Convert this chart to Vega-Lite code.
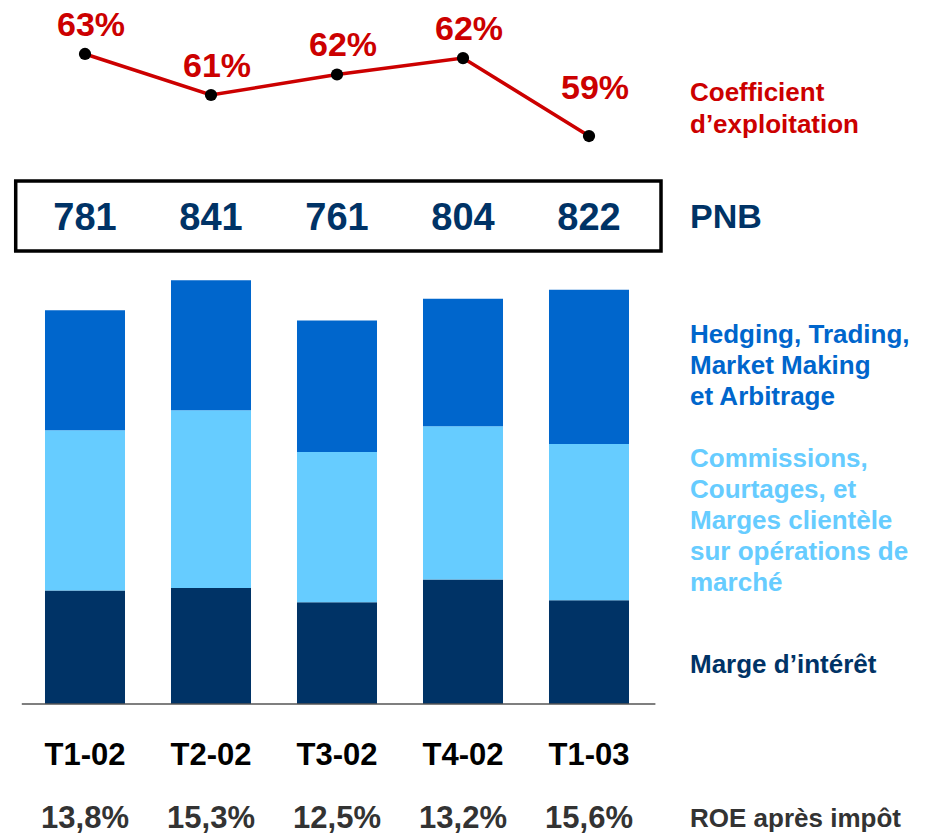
{
  "$schema": "https://vega.github.io/schema/vega-lite/v6.json",
  "padding": 0,
  "autosize": {"type": "pad"},
  "bounds": "flush",
  "spacing": 0,
  "config": {
    "view": {"stroke": null},
    "font": "Liberation Sans",
    "locale": {"number": {"decimal": ",", "thousands": " ", "grouping": [3], "currency": ["", " €"]}}
  },
  "datasets": {
    "quarters": [
      {"quarter": "T1-02", "pnb": 781, "coef": 63, "coefLabel": "63%", "roe": 0.138},
      {"quarter": "T2-02", "pnb": 841, "coef": 61, "coefLabel": "61%", "roe": 0.153},
      {"quarter": "T3-02", "pnb": 761, "coef": 62, "coefLabel": "62%", "roe": 0.125},
      {"quarter": "T4-02", "pnb": 804, "coef": 62.8, "coefLabel": "62%", "roe": 0.132},
      {"quarter": "T1-03", "pnb": 822, "coef": 59, "coefLabel": "59%", "roe": 0.156}
    ],
    "bars": [
      {"quarter": "T1-02", "series": "Marge", "stackOrder": 1, "value": 225},
      {"quarter": "T1-02", "series": "Commissions", "stackOrder": 2, "value": 318},
      {"quarter": "T1-02", "series": "Hedging", "stackOrder": 3, "value": 238},
      {"quarter": "T2-02", "series": "Marge", "stackOrder": 1, "value": 230},
      {"quarter": "T2-02", "series": "Commissions", "stackOrder": 2, "value": 353},
      {"quarter": "T2-02", "series": "Hedging", "stackOrder": 3, "value": 258},
      {"quarter": "T3-02", "series": "Marge", "stackOrder": 1, "value": 202},
      {"quarter": "T3-02", "series": "Commissions", "stackOrder": 2, "value": 298},
      {"quarter": "T3-02", "series": "Hedging", "stackOrder": 3, "value": 261},
      {"quarter": "T4-02", "series": "Marge", "stackOrder": 1, "value": 247},
      {"quarter": "T4-02", "series": "Commissions", "stackOrder": 2, "value": 304},
      {"quarter": "T4-02", "series": "Hedging", "stackOrder": 3, "value": 253},
      {"quarter": "T1-03", "series": "Marge", "stackOrder": 1, "value": 206},
      {"quarter": "T1-03", "series": "Commissions", "stackOrder": 2, "value": 310},
      {"quarter": "T1-03", "series": "Hedging", "stackOrder": 3, "value": 306}
    ],
    "series": [
      {"series": "Marge", "label": "Marge d’intérêt"},
      {"series": "Commissions", "label": "Commissions,\nCourtages, et\nMarges clientèle\nsur opérations de\nmarché"},
      {"series": "Hedging", "label": "Hedging, Trading,\nMarket Making\net Arbitrage"}
    ],
    "one": [{"item": "label"}]
  },
  "vconcat": [
    {
      "width": 933,
      "height": 181,
      "layer": [
        {
          "data": {"name": "quarters"},
          "mark": {"type": "line", "color": "#CC0000", "strokeWidth": 3.5},
          "encoding": {
            "x": {"field": "quarter", "type": "nominal", "axis": null,
                  "scale": {"type": "band", "domain": ["T1-02", "T2-02", "T3-02", "T4-02", "T1-03", "lab"], "range": [22, 778], "paddingInner": 0.365, "paddingOuter": 0.1825}},
            "y": {"field": "coef", "type": "quantitative", "axis": null,
                  "scale": {"domain": [56.805, 65.634], "nice": false, "zero": false}}
          }
        },
        {
          "data": {"name": "quarters"},
          "mark": {"type": "circle", "color": "#000000", "opacity": 1, "size": 150},
          "encoding": {
            "x": {"field": "quarter", "type": "nominal"},
            "y": {"field": "coef", "type": "quantitative"}
          }
        },
        {
          "data": {"name": "quarters"},
          "transform": [{"filter": "datum.quarter !== 'T1-03'"}],
          "mark": {"type": "text", "color": "#CC0000", "fontSize": 34, "fontWeight": "bold", "baseline": "alphabetic", "align": "center", "dx": 6, "dy": -18},
          "encoding": {
            "x": {"field": "quarter", "type": "nominal"},
            "y": {"field": "coef", "type": "quantitative"},
            "text": {"field": "coefLabel"}
          }
        },
        {
          "data": {"name": "quarters"},
          "transform": [{"filter": "datum.quarter === 'T1-03'"}],
          "mark": {"type": "text", "color": "#CC0000", "fontSize": 34, "fontWeight": "bold", "baseline": "alphabetic", "align": "center", "dx": 6, "dy": -37},
          "encoding": {
            "x": {"field": "quarter", "type": "nominal"},
            "y": {"field": "coef", "type": "quantitative"},
            "text": {"field": "coefLabel"}
          }
        },
        {
          "data": {"name": "one"},
          "mark": {"type": "text", "text": "Coefficient\nd’exploitation", "lineBreak": "\n", "color": "#CC0000", "fontSize": 26, "fontWeight": "bold", "lineHeight": 32, "align": "left", "baseline": "middle", "dy": 2},
          "encoding": {
            "x": {"datum": "lab", "type": "nominal", "bandPosition": 0.1875}
          }
        }
      ]
    },
    {
      "width": 933,
      "height": 70,
      "layer": [
        {
          "data": {"name": "one"},
          "mark": {"type": "rect", "filled": false, "stroke": "#000000", "strokeWidth": 3.5},
          "encoding": {
            "x": {"datum": "T1-02", "type": "nominal", "bandPosition": -0.366, "axis": null,
                  "scale": {"type": "band", "domain": ["T1-02", "T2-02", "T3-02", "T4-02", "T1-03", "lab"], "range": [22, 778], "paddingInner": 0.365, "paddingOuter": 0.1825}},
            "x2": {"datum": "T1-03", "bandPosition": 1.4}
          }
        },
        {
          "data": {"name": "quarters"},
          "mark": {"type": "text", "color": "#003366", "fontSize": 38, "fontWeight": "bold", "baseline": "middle", "align": "center", "dy": 3},
          "encoding": {
            "x": {"field": "quarter", "type": "nominal"},
            "text": {"field": "pnb", "type": "quantitative", "format": "d"}
          }
        },
        {
          "data": {"name": "one"},
          "mark": {"type": "text", "text": "PNB", "color": "#003366", "fontSize": 34, "fontWeight": "bold", "align": "left", "baseline": "middle", "dy": 2},
          "encoding": {
            "x": {"datum": "lab", "type": "nominal", "bandPosition": 0.1875}
          }
        }
      ]
    },
    {
      "width": 933,
      "height": 453,
      "layer": [
        {
          "data": {"name": "bars"},
          "mark": {"type": "bar"},
          "encoding": {
            "x": {"field": "quarter", "type": "nominal", "axis": null,
                  "scale": {"type": "band", "domain": ["T1-02", "T2-02", "T3-02", "T4-02", "T1-03", "lab"], "range": [22, 778], "paddingInner": 0.365, "paddingOuter": 0.1825}},
            "y": {"field": "value", "type": "quantitative", "stack": "zero", "axis": null,
                  "scale": {"domain": [0, 898.8], "nice": false}},
            "color": {"field": "series", "type": "nominal", "legend": null,
                      "scale": {"domain": ["Marge", "Commissions", "Hedging"], "range": ["#003366", "#66CCFF", "#0066CC"]}},
            "order": {"field": "stackOrder", "type": "quantitative"}
          }
        },
        {
          "data": {"name": "one"},
          "mark": {"type": "rule", "color": "#555555", "strokeWidth": 1.5},
          "encoding": {
            "x": {"datum": "T1-02", "type": "nominal", "bandPosition": -0.29},
            "x2": {"datum": "T1-03", "bandPosition": 1.33},
            "y": {"datum": 0, "type": "quantitative"}
          }
        },
        {
          "data": {"name": "bars"},
          "transform": [
            {"stack": "value", "groupby": ["quarter"], "sort": [{"field": "stackOrder"}], "as": ["v0", "v1"]},
            {"filter": "datum.quarter === 'T1-03' && datum.series === 'Hedging'"},
            {"lookup": "series", "from": {"data": {"name": "series"}, "key": "series", "fields": ["label"]}}
          ],
          "mark": {"type": "text", "lineBreak": "\n", "fontSize": 26, "fontWeight": "bold", "lineHeight": 31, "align": "left", "baseline": "middle", "dy": 45},
          "encoding": {
            "x": {"datum": "lab", "type": "nominal", "bandPosition": 0.1875},
            "y": {"field": "v1", "type": "quantitative"},
            "color": {"field": "series", "type": "nominal"},
            "text": {"field": "label"}
          }
        },
        {
          "data": {"name": "bars"},
          "transform": [
            {"stack": "value", "groupby": ["quarter"], "sort": [{"field": "stackOrder"}], "as": ["v0", "v1"]},
            {"filter": "datum.quarter === 'T1-03' && datum.series === 'Commissions'"},
            {"lookup": "series", "from": {"data": {"name": "series"}, "key": "series", "fields": ["label"]}}
          ],
          "mark": {"type": "text", "lineBreak": "\n", "fontSize": 26, "fontWeight": "bold", "lineHeight": 31, "align": "left", "baseline": "middle", "dy": 15},
          "encoding": {
            "x": {"datum": "lab", "type": "nominal", "bandPosition": 0.1875},
            "y": {"field": "v1", "type": "quantitative"},
            "color": {"field": "series", "type": "nominal"},
            "text": {"field": "label"}
          }
        },
        {
          "data": {"name": "bars"},
          "transform": [
            {"stack": "value", "groupby": ["quarter"], "sort": [{"field": "stackOrder"}], "as": ["v0", "v1"]},
            {"filter": "datum.quarter === 'T1-03' && datum.series === 'Marge'"},
            {"lookup": "series", "from": {"data": {"name": "series"}, "key": "series", "fields": ["label"]}}
          ],
          "mark": {"type": "text", "fontSize": 26, "fontWeight": "bold", "align": "left", "baseline": "middle", "dy": 65},
          "encoding": {
            "x": {"datum": "lab", "type": "nominal", "bandPosition": 0.1875},
            "y": {"field": "v1", "type": "quantitative"},
            "color": {"field": "series", "type": "nominal"},
            "text": {"field": "label"}
          }
        }
      ]
    },
    {
      "width": 933,
      "height": 98,
      "data": {"name": "quarters"},
      "mark": {"type": "text", "color": "#000000", "fontSize": 31, "fontWeight": "bold", "baseline": "middle", "align": "center", "dy": 3},
      "encoding": {
        "x": {"field": "quarter", "type": "nominal", "axis": null,
              "scale": {"type": "band", "domain": ["T1-02", "T2-02", "T3-02", "T4-02", "T1-03", "lab"], "range": [22, 778], "paddingInner": 0.365, "paddingOuter": 0.1825}},
        "text": {"field": "quarter"}
      }
    },
    {
      "width": 933,
      "height": 32,
      "layer": [
        {
          "data": {"name": "quarters"},
          "mark": {"type": "text", "color": "#333333", "fontSize": 31, "fontWeight": "bold", "baseline": "middle", "align": "center", "dy": 1},
          "encoding": {
            "x": {"field": "quarter", "type": "nominal", "axis": null,
                  "scale": {"type": "band", "domain": ["T1-02", "T2-02", "T3-02", "T4-02", "T1-03", "lab"], "range": [22, 778], "paddingInner": 0.365, "paddingOuter": 0.1825}},
            "text": {"field": "roe", "type": "quantitative", "format": ".1%"}
          }
        },
        {
          "data": {"name": "one"},
          "mark": {"type": "text", "text": "ROE après impôt", "color": "#333333", "fontSize": 26, "fontWeight": "bold", "align": "left", "baseline": "middle", "dy": 1},
          "encoding": {
            "x": {"datum": "lab", "type": "nominal", "bandPosition": 0.1875}
          }
        }
      ]
    }
  ]
}
